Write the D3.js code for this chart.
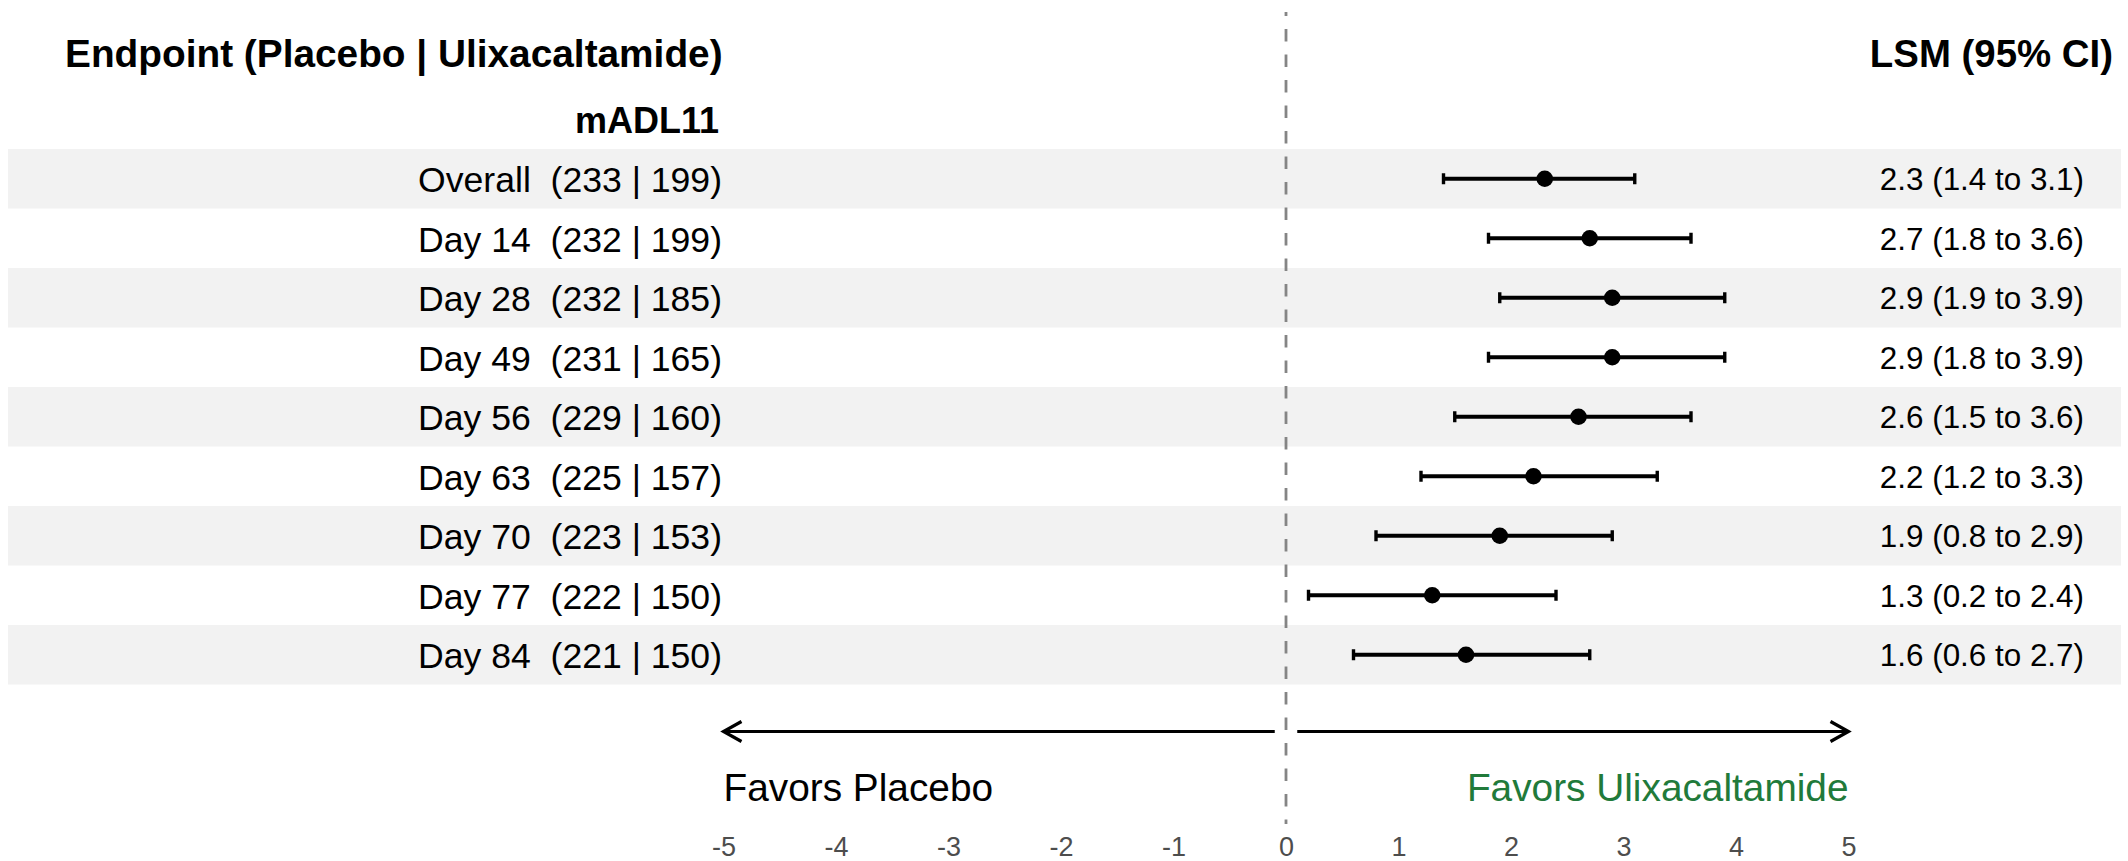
<!DOCTYPE html>
<html>
<head>
<meta charset="utf-8">
<script src="https://cdn.jsdelivr.net/npm/d3@7"></script>
<style>
  html, body { margin: 0; padding: 0; background: #fff; }
  svg { display: block; }
  text { font-family: "Liberation Sans", Arial, Helvetica, sans-serif; }
</style>
</head>
<body>
<svg id="chart" width="2128" height="861"></svg>
<script>
// Forest plot data: LSM difference (95% CI) by visit
const endpoint = "mADL11";
const visits = ["Overall", "Day 14", "Day 28", "Day 49", "Day 56", "Day 63", "Day 70", "Day 77", "Day 84"];
const nPlacebo = [233, 232, 232, 231, 229, 225, 223, 222, 221];
const nUlixacaltamide = [199, 199, 185, 165, 160, 157, 153, 150, 150];
const lsm = [2.3, 2.7, 2.9, 2.9, 2.6, 2.2, 1.9, 1.3, 1.6];
const ciLower = [1.4, 1.8, 1.9, 1.8, 1.5, 1.2, 0.8, 0.2, 0.6];
const ciUpper = [3.1, 3.6, 3.9, 3.9, 3.6, 3.3, 2.9, 2.4, 2.7];
const xTicks = [-5, -4, -3, -2, -1, 0, 1, 2, 3, 4, 5];

const rows = visits.map((v, i) => ({
  visit: v, np: nPlacebo[i], nu: nUlixacaltamide[i],
  est: lsm[i], lo: ciLower[i], hi: ciUpper[i], i
}));

const svg = d3.select("#chart");

const x = d3.scaleLinear().domain([-5, 5]).range([723.5, 1848.5]);
const y = d3.scaleBand().domain(visits).range([149, 149 + 59.5 * visits.length]).padding(0);
const yc = v => y(v) + y.bandwidth() / 2;

// Alternating row shading
svg.append("g").selectAll("rect")
  .data(rows.filter(d => d.i % 2 === 0))
  .join("rect")
  .attr("x", 8).attr("width", 2113)
  .attr("y", d => y(d.visit)).attr("height", y.bandwidth())
  .attr("fill", "#f2f2f2");

// Reference line at zero
svg.append("line")
  .attr("x1", x(0)).attr("x2", x(0))
  .attr("y1", 12).attr("y2", 824)
  .attr("stroke", "#858585").attr("stroke-width", 2.8)
  .attr("stroke-dasharray", "12.5 13").attr("stroke-dashoffset", 8.5);

// Headers
svg.append("text").attr("x", 65).attr("y", 67)
  .attr("font-size", 38.8).attr("font-weight", "bold").attr("fill", "#000")
  .text("Endpoint (Placebo | Ulixacaltamide)");
svg.append("text").attr("x", 2113).attr("y", 67).attr("text-anchor", "end")
  .attr("font-size", 38.4).attr("font-weight", "bold").attr("fill", "#000")
  .text("LSM (95% CI)");
svg.append("text").attr("x", 719).attr("y", 133).attr("text-anchor", "end")
  .attr("font-size", 36).attr("font-weight", "bold").attr("fill", "#000")
  .text(endpoint);

// Row labels
svg.append("g").selectAll("text")
  .data(rows).join("text")
  .attr("x", 722).attr("y", d => yc(d.visit) + 13.5)
  .attr("text-anchor", "end").attr("font-size", 35.6).attr("fill", "#000")
  .style("white-space", "pre")
  .text(d => `${d.visit}  (${d.np} | ${d.nu})`);

// Estimate labels
svg.append("g").selectAll("text")
  .data(rows).join("text")
  .attr("x", 2084).attr("y", d => yc(d.visit) + 11.5)
  .attr("text-anchor", "end").attr("font-size", 31.4).attr("fill", "#000")
  .text(d => `${d.est.toFixed(1)} (${d.lo.toFixed(1)} to ${d.hi.toFixed(1)})`);

// Error bars
const bars = svg.append("g").selectAll("g").data(rows).join("g");
bars.append("line")
  .attr("x1", d => x(d.lo)).attr("x2", d => x(d.hi))
  .attr("y1", d => yc(d.visit)).attr("y2", d => yc(d.visit))
  .attr("stroke", "#000").attr("stroke-width", 4);
bars.append("line")
  .attr("x1", d => x(d.lo)).attr("x2", d => x(d.lo))
  .attr("y1", d => yc(d.visit) - 5.5).attr("y2", d => yc(d.visit) + 5.5)
  .attr("stroke", "#000").attr("stroke-width", 3.4);
bars.append("line")
  .attr("x1", d => x(d.hi)).attr("x2", d => x(d.hi))
  .attr("y1", d => yc(d.visit) - 5.5).attr("y2", d => yc(d.visit) + 5.5)
  .attr("stroke", "#000").attr("stroke-width", 3.4);
bars.append("circle")
  .attr("cx", d => x(d.est)).attr("cy", d => yc(d.visit))
  .attr("r", 8.3).attr("fill", "#000");

// Direction arrows
const arrowY = 731.5;
function arrow(x1, x2) {
  const dir = Math.sign(x2 - x1);
  const len = 18, half = 10;
  const g = svg.append("g").attr("stroke", "#000").attr("stroke-width", 3.2).attr("fill", "none");
  g.append("line").attr("x1", x1).attr("x2", x2).attr("y1", arrowY).attr("y2", arrowY);
  g.append("path")
    .attr("d", `M${x2 - dir * len},${arrowY - half}L${x2},${arrowY}L${x2 - dir * len},${arrowY + half}`)
    .attr("stroke-linejoin", "miter");
}
arrow(x(-0.1), x(-5));
arrow(x(0.1), x(5));

svg.append("text").attr("x", x(-5)).attr("y", 801)
  .attr("font-size", 38.8).attr("fill", "#000").text("Favors Placebo");
svg.append("text").attr("x", x(5)).attr("y", 801).attr("text-anchor", "end")
  .attr("font-size", 38.8).attr("fill", "#217a3a").text("Favors Ulixacaltamide");

// X axis labels
const axis = d3.axisBottom(x).tickValues(xTicks).tickSize(0).tickPadding(0)
  .tickFormat(d3.format("d"));
const ax = svg.append("g").attr("transform", "translate(0,837)").call(axis);
ax.select(".domain").remove();
ax.selectAll("text")
  .attr("font-size", 27).attr("fill", "#4d4d4d")
  .attr("font-family", "'Liberation Sans', Arial, sans-serif")
  .attr("dy", "0.71em")
  .text(d => d < 0 ? "-" + Math.abs(d) : d);
</script>
</body>
</html>
